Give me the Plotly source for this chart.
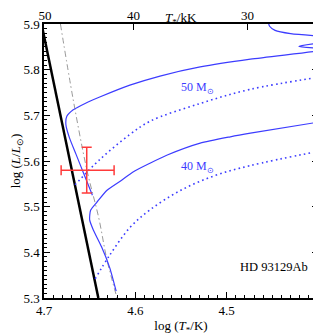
"""HRD zoom — HD 93129Ab with 40 and 50 Msun tracks."""

import numpy as np
import plotly.graph_objects as go

# black line (logT, logL)
zams_logt = [4.7027, 4.6405]
zams_logl = [5.90, 5.30]

# grey dash-dot line
grey_logt = [4.682, 4.668, 4.653, 4.640, 4.631, 4.620]
grey_logl = [5.900, 5.734, 5.580, 5.475, 5.383, 5.300]

# 50 Msun, solid track
t50_logt = [4.647, 4.655, 4.665, 4.672, 4.676, 4.675, 4.668, 4.655, 4.639, 4.606,
            4.573, 4.529, 4.474, 4.400, 4.390, 4.421, 4.400, 4.380, 4.380, 4.400,
            4.430, 4.447, 4.453, 4.455]
t50_logl = [5.525, 5.565, 5.615, 5.650, 5.679, 5.698, 5.712, 5.726, 5.740, 5.766,
            5.786, 5.806, 5.823, 5.841, 5.845, 5.851, 5.858, 5.862, 5.872, 5.874,
            5.879, 5.886, 5.895, 5.910]

# 50 Msun, dotted track
d50_logt = [4.666, 4.639, 4.606, 4.584, 4.529, 4.474, 4.400]
d50_logl = [5.548, 5.603, 5.658, 5.687, 5.726, 5.757, 5.783]

# 40 Msun, solid track
t40_logt = [4.621, 4.628, 4.637, 4.646, 4.650, 4.649, 4.642, 4.631, 4.615, 4.6025,
            4.584, 4.565, 4.529, 4.496, 4.474, 4.400]
t40_logl = [5.315, 5.366, 5.412, 5.449, 5.471, 5.492, 5.510, 5.536, 5.558, 5.576,
            5.595, 5.613, 5.639, 5.653, 5.661, 5.685]

# 40 Msun, dotted track
d40_logt = [4.644, 4.628, 4.606, 4.584, 4.551, 4.513, 4.474, 4.400]
d40_logl = [5.342, 5.394, 5.454, 5.493, 5.535, 5.568, 5.590, 5.621]

# HD 93129Ab
star_teff_kk = 45.0
star_teff_err_kk = 3.0
star_logl = 5.58
star_logl_err = 0.05

top_ticks_kk = [50, 40, 30]

BLUE = "#3c3cff"
RED = "#ff3a3a"
FONT = "Liberation Serif"
DOTS = "1.6px,3.2px"

star_logt = np.log10(star_teff_kk * 1e3)
err_hot = np.log10((star_teff_kk + star_teff_err_kk) * 1e3) - star_logt
err_cool = star_logt - np.log10((star_teff_kk - star_teff_err_kk) * 1e3)

fig = go.Figure()

fig.add_trace(go.Scatter(x=zams_logt, y=zams_logl, mode="lines",
                         line=dict(color="black", width=2.5), hoverinfo="skip"))
fig.add_trace(go.Scatter(x=grey_logt, y=grey_logl, mode="lines",
                         line=dict(color="#9a9a9a", width=1, dash="6px,3px,1.5px,3px",
                                   shape="spline"),
                         hoverinfo="skip"))
fig.add_trace(go.Scatter(x=t50_logt, y=t50_logl, mode="lines",
                         line=dict(color=BLUE, width=1.2, shape="spline", smoothing=0.6),
                         hoverinfo="skip"))
fig.add_trace(go.Scatter(x=d50_logt, y=d50_logl, mode="lines",
                         line=dict(color=BLUE, width=1.6, dash=DOTS, shape="spline"),
                         hoverinfo="skip"))
fig.add_trace(go.Scatter(x=t40_logt, y=t40_logl, mode="lines",
                         line=dict(color=BLUE, width=1.2, shape="spline", smoothing=0.6),
                         hoverinfo="skip"))
fig.add_trace(go.Scatter(x=d40_logt, y=d40_logl, mode="lines",
                         line=dict(color=BLUE, width=1.6, dash=DOTS, shape="spline"),
                         hoverinfo="skip"))

# error cross
fig.add_trace(go.Scatter(
    x=[star_logt], y=[star_logl], mode="markers",
    marker=dict(size=1, color=RED),
    error_x=dict(type="data", symmetric=False, array=[err_hot], arrayminus=[err_cool],
                 color=RED, thickness=1.5, width=5),
    error_y=dict(type="data", array=[star_logl_err], color=RED, thickness=1.5, width=5),
    hoverinfo="skip",
))

# dummy trace to carry the top axis
fig.add_trace(go.Scatter(x=[4.55], y=[5.6], xaxis="x2", mode="markers",
                         marker=dict(opacity=0), hoverinfo="skip"))

fig.add_annotation(x=4.532, y=5.759, text="50 M<sub>⊙</sub>", showarrow=False,
                   font=dict(family=FONT, size=12, color=BLUE))
fig.add_annotation(x=4.532, y=5.586, text="40 M<sub>⊙</sub>", showarrow=False,
                   font=dict(family=FONT, size=12, color=BLUE))
fig.add_annotation(x=0.97, y=0.08, xref="paper", yref="paper", xanchor="right",
                   text="HD 93129Ab", showarrow=False,
                   font=dict(family=FONT, size=12.5, color="black"))
fig.add_annotation(x=0.5, y=1.0, xref="paper", yref="paper", yshift=16, yanchor="top",
                   text="<i>T</i><sub>*</sub>/kK", showarrow=False,
                   font=dict(family=FONT, size=13, color="black"))

axis_common = dict(showgrid=False, zeroline=False, linecolor="black", linewidth=1.5,
                   ticks="inside", tickcolor="black", ticklen=6, tickwidth=1,
                   tickfont=dict(family=FONT, size=13, color="black"))

# the page body adds 8 px of margin, so the figure is 8 px smaller and shifted
fig.update_layout(
    width=313, height=327,
    margin=dict(l=36, r=3, t=16, b=37),
    paper_bgcolor="white", plot_bgcolor="white",
    showlegend=False,
    xaxis=dict(range=[4.7, 4.4], dtick=0.1, tickformat=".1f", mirror=True,
               minor=dict(dtick=0.01, ticks="inside", ticklen=3, tickcolor="black"),
               title=dict(text="log (<i>T</i><sub>*</sub>/K)", standoff=4,
                          font=dict(family=FONT, size=13, color="black")),
               automargin=False, **axis_common),
    xaxis2=dict(overlaying="x", side="top", range=[4.7, 4.4],
                tickvals=[np.log10(t * 1e3) for t in top_ticks_kk],
                ticktext=[str(t) for t in top_ticks_kk], automargin=False,
                showline=False, **{k: v for k, v in axis_common.items()
                                   if k not in ("linecolor", "linewidth")}),
    yaxis=dict(range=[5.3, 5.9], dtick=0.1, tickformat=".1f", mirror="ticks",
               minor=dict(dtick=0.01, ticks="inside", ticklen=3, tickcolor="black"),
               title=dict(text="log (<i>L</i>/<i>L</i><sub>⊙</sub>)", standoff=4,
                          font=dict(family=FONT, size=13, color="black")),
               automargin=False, **axis_common),
)

fig.write_html("out.html")
